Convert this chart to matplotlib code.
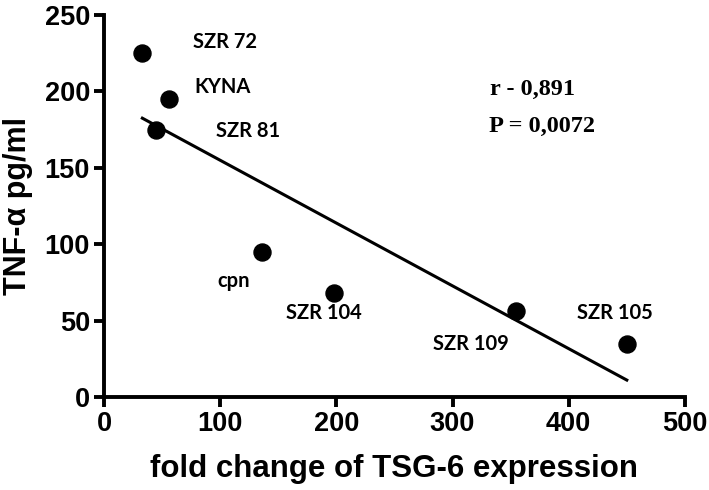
import numpy as np
import matplotlib
matplotlib.use("Agg")
import matplotlib.pyplot as plt

# values
names = ["SZR 72", "KYNA", "SZR 81", "cpn", "SZR 104", "SZR 109", "SZR 105"]
fold_change = [33, 56, 45, 136, 198, 355, 450]
tnf_alpha = [225, 195, 175, 95, 68, 56, 35]
# where each name sits (data coords, left edge / vertical centre)
label_x = [77, 78, 96, 98, 157, 283, 407]
label_y = [232, 203, 174, 76, 55, 35, 55]
x_ticks = [0, 100, 200, 300, 400, 500]
y_ticks = [0, 50, 100, 150, 200, 250]

fig = plt.figure(figsize=(7.09, 4.90), dpi=100)
ax = fig.add_axes([0.1467, 0.1898, 0.8193, 0.7796])

ax.scatter(fold_change, tnf_alpha, s=150, color="black", zorder=3)

# linear regression line over the data range
slope, intercept = np.polyfit(fold_change, tnf_alpha, 1)
xs = np.array([min(fold_change), max(fold_change)])
ax.plot(xs, slope * xs + intercept, color="black", lw=2.2)

for name, lx, ly in zip(names, label_x, label_y):
    ax.text(lx, ly, name, fontsize=14.5, fontweight="bold", family="Lato",
            va="center", ha="left")

ax.text(332, 201, "r - 0,891", fontsize=17.5, fontweight="bold",
        family="Liberation Serif", va="center")
ax.text(331, 177, "P = 0,0072", fontsize=17.5, fontweight="bold",
        family="Liberation Serif", va="center")

ax.set_xlim(0, 500)
ax.set_ylim(0, 250)
ax.set_xticks(x_ticks)
ax.set_yticks(y_ticks)
for s in ["top", "right"]:
    ax.spines[s].set_visible(False)
for s in ["left", "bottom"]:
    ax.spines[s].set_linewidth(2.8)
ax.tick_params(width=2.8, length=7, direction="out", labelsize=19.5, pad=3)
for lab in ax.get_xticklabels() + ax.get_yticklabels():
    lab.set_fontweight("bold")
    lab.set_family("Liberation Sans")

ax.set_xlabel("fold change of TSG-6 expression", fontsize=22.5,
              fontweight="bold", family="Liberation Sans")
ax.set_ylabel("TNF-\u03b1 pg/ml", fontsize=22, fontweight="bold",
              family="Liberation Sans")
ax.xaxis.set_label_coords(0.5, -0.15)
ax.yaxis.set_label_coords(-0.122, 0.5)

fig.savefig("out.png", dpi=100)
